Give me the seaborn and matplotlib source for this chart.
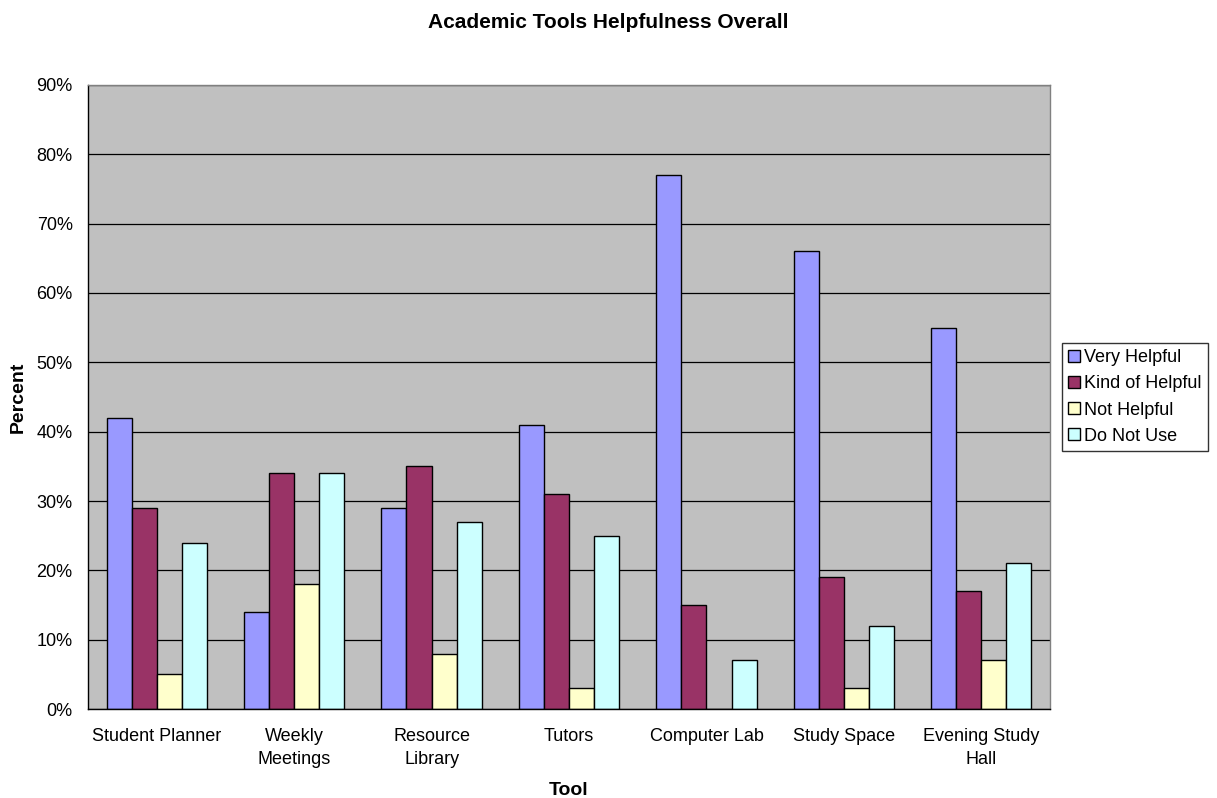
import matplotlib
matplotlib.use("Agg")
import matplotlib.pyplot as plt
import matplotlib.ticker as mticker
import seaborn as sns
import pandas as pd
import numpy as np

tools = ["Student Planner", "Weekly\nMeetings", "Resource\nLibrary", "Tutors",
         "Computer Lab", "Study Space", "Evening Study\nHall"]
responses = ["Very Helpful", "Kind of Helpful", "Not Helpful", "Do Not Use"]
very_helpful = [42, 14, 29, 41, 77, 66, 55]
kind_of_helpful = [29, 34, 35, 31, 15, 19, 17]
not_helpful = [5, 18, 8, 3, 0, 3, 7]
do_not_use = [24, 34, 27, 25, 7, 12, 21]
colors = ["#9999FF", "#993366", "#FFFFCC", "#CCFFFF"]

rows = []
for resp, vals in zip(responses, [very_helpful, kind_of_helpful, not_helpful, do_not_use]):
    for tool, v in zip(tools, vals):
        rows.append({"Tool": tool, "Response": resp, "Percent": v / 100})
df = pd.DataFrame(rows)

sns.set_theme(style="white")
plt.rcParams["font.family"] = ["Liberation Sans", "DejaVu Sans"]
plt.rcParams["text.color"] = "black"
plt.rcParams["axes.labelcolor"] = "black"
plt.rcParams["xtick.color"] = "black"
plt.rcParams["ytick.color"] = "black"

fig = plt.figure(figsize=(12.17, 7.98), dpi=100)
ax = fig.add_axes([0.0723, 0.1115, 0.7905, 0.782])
ax.set_facecolor("#C0C0C0")

sns.barplot(data=df, x="Tool", y="Percent", hue="Response", order=tools,
            hue_order=responses, palette=colors, width=0.73, gap=0,
            edgecolor="black", linewidth=1.0, saturation=1, ax=ax, errorbar=None)

ax.set_ylim(0, 0.9)
ax.set_xlim(-0.5, len(tools) - 0.5)
ax.yaxis.set_major_locator(mticker.MultipleLocator(0.1))
ax.yaxis.set_major_formatter(mticker.PercentFormatter(1.0, decimals=0))
ax.set_axisbelow(True)
ax.grid(axis="y", color="black", linewidth=0.9)
ax.grid(axis="x", visible=False)

# category boundaries carry the x tick marks
ax.set_xticks(np.arange(len(tools)))
ax.set_xticklabels(tools, fontsize=13, linespacing=1.45)
ax.set_xticks(np.arange(-0.5, len(tools)), minor=True)
ax.tick_params(axis="x", which="major", length=0, pad=14)
ax.tick_params(axis="x", which="minor", length=5, width=1, color="black", direction="out")
ax.tick_params(axis="y", length=5, width=1, color="black", direction="out", labelsize=13, pad=6)

for side, sp in ax.spines.items():
    sp.set_color("#808080" if side in ("top", "right") else "black")
    sp.set_linewidth(1.0)

ax.set_xlabel("Tool", fontsize=14, fontweight="bold", labelpad=10)
ax.set_ylabel("Percent", fontsize=14, fontweight="bold", labelpad=7)
fig.suptitle("Academic Tools Helpfulness Overall", x=0.5, y=0.984,
             fontsize=15, fontweight="bold", color="black")

handles, labels = ax.get_legend_handles_labels()
leg = ax.legend(handles, labels, loc="center left", bbox_to_anchor=(1.012, 0.5),
                fontsize=13, frameon=True, fancybox=False, edgecolor="black",
                handlelength=0.65, handleheight=0.65, handletextpad=0.25,
                borderpad=0.35, labelspacing=0.5, borderaxespad=0)
leg.get_frame().set_linewidth(1.0)

fig.savefig("out.png", dpi=100, facecolor="white")
